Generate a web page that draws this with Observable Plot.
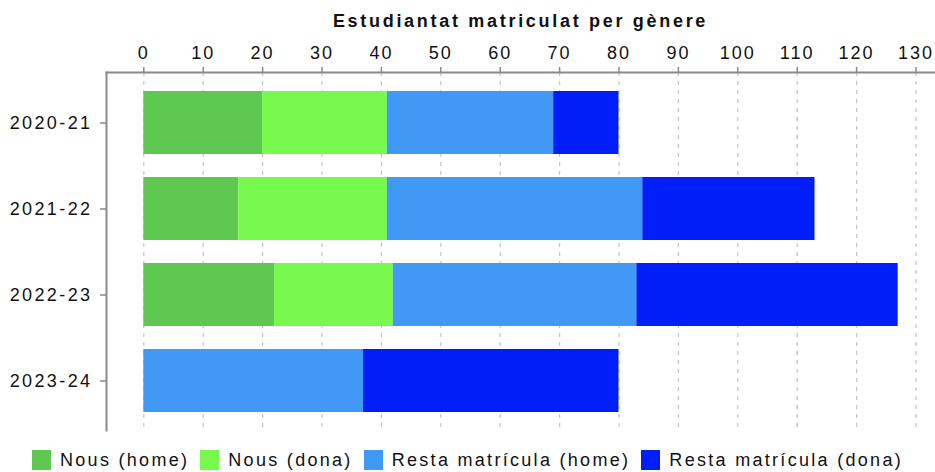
<!DOCTYPE html>
<html>
<head>
<meta charset="utf-8">
<script src="https://cdn.jsdelivr.net/npm/d3@7"></script>
<script src="https://cdn.jsdelivr.net/npm/@observablehq/plot@0.6"></script>
<style>
  body { margin: 0; background: #fff; font-family: "Liberation Sans", Arial, sans-serif; }
  #title { height: 36px; box-sizing: border-box; padding-top: 11px; padding-left: 106px; text-align: center;
           font-weight: bold; font-size: 18px; line-height: 20px; letter-spacing: 2.7px; color: #111; }
  #chart svg text { letter-spacing: 2px; }
  #chart svg g[aria-label="y-axis tick label"] text { letter-spacing: 2.4px; }
  #legend { display: flex; justify-content: center; align-items: center; gap: 11px; height: 22px; margin-top: 9px;
            font-size: 18px; letter-spacing: 2.3px; color: #111; }
  .item { display: flex; align-items: center; }
  .sw { width: 19px; height: 20px; margin-right: 9px; }
</style>
</head>
<body>
<div id="title">Estudiantat matriculat per gènere</div>
<div id="chart"></div>
<div id="legend"></div>
<script>
const years = ["2020-21", "2021-22", "2022-23", "2023-24"];
const series = ["Nous (home)", "Nous (dona)", "Resta matrícula (home)", "Resta matrícula (dona)"];
const colors = ["#5ec850", "#77f94e", "#4299f5", "#001ff8"];
const nousHome = [20, 16, 22, 0];
const nousDona = [21, 25, 20, 0];
const restaHome = [28, 43, 41, 37];
const restaDona = [11, 29, 44, 43];
const xTicks = [0, 10, 20, 30, 40, 50, 60, 70, 80, 90, 100, 110, 120, 130];

const seriesValues = [nousHome, nousDona, restaHome, restaDona];
const rows = [];
years.forEach((year, i) => {
  series.forEach((s, j) => {
    const v = seriesValues[j][i];
    if (v > 0) rows.push({year, series: s, value: v});
  });
});

const chart = Plot.plot({
  width: 935,
  height: 404,
  marginTop: 36,
  marginLeft: 106,
  marginRight: 0,
  marginBottom: 10,
  style: {fontFamily: "'Liberation Sans', Arial, sans-serif", background: "#fff"},
  x: {domain: [0, 130], insetLeft: 37.3, insetRight: 19.5, axis: null},
  y: {domain: years, paddingInner: 0.27, paddingOuter: 0.2, axis: null},
  color: {domain: series, range: colors},
  marks: [
    Plot.gridX(xTicks, {stroke: "#c4c4c4", strokeOpacity: 1, strokeWidth: 1.2, strokeDasharray: "4,5"}),
    Plot.barX(rows, {x: "value", y: "year", fill: "series", order: series}),
    Plot.frame({anchor: "top", stroke: "#8a8a8a", strokeWidth: 2}),
    Plot.frame({anchor: "left", stroke: "#8a8a8a", strokeWidth: 2}),
    Plot.axisX(xTicks, {anchor: "top", tickSize: 6, tickPadding: 8, fontSize: 18, stroke: "#8a8a8a", strokeWidth: 1.5, fill: "#111", label: null}),
    Plot.axisY({anchor: "left", tickSize: 6, tickPadding: 8, fontSize: 18, stroke: "#8a8a8a", strokeWidth: 1.5, fill: "#111", label: null})
  ]
});
document.getElementById("chart").appendChild(chart);

const legend = document.getElementById("legend");
series.forEach((s, j) => {
  const item = document.createElement("div");
  item.className = "item";
  const sw = document.createElement("div");
  sw.className = "sw";
  sw.style.background = colors[j];
  const t = document.createElement("span");
  t.textContent = s;
  item.appendChild(sw);
  item.appendChild(t);
  legend.appendChild(item);
});
</script>
</body>
</html>
